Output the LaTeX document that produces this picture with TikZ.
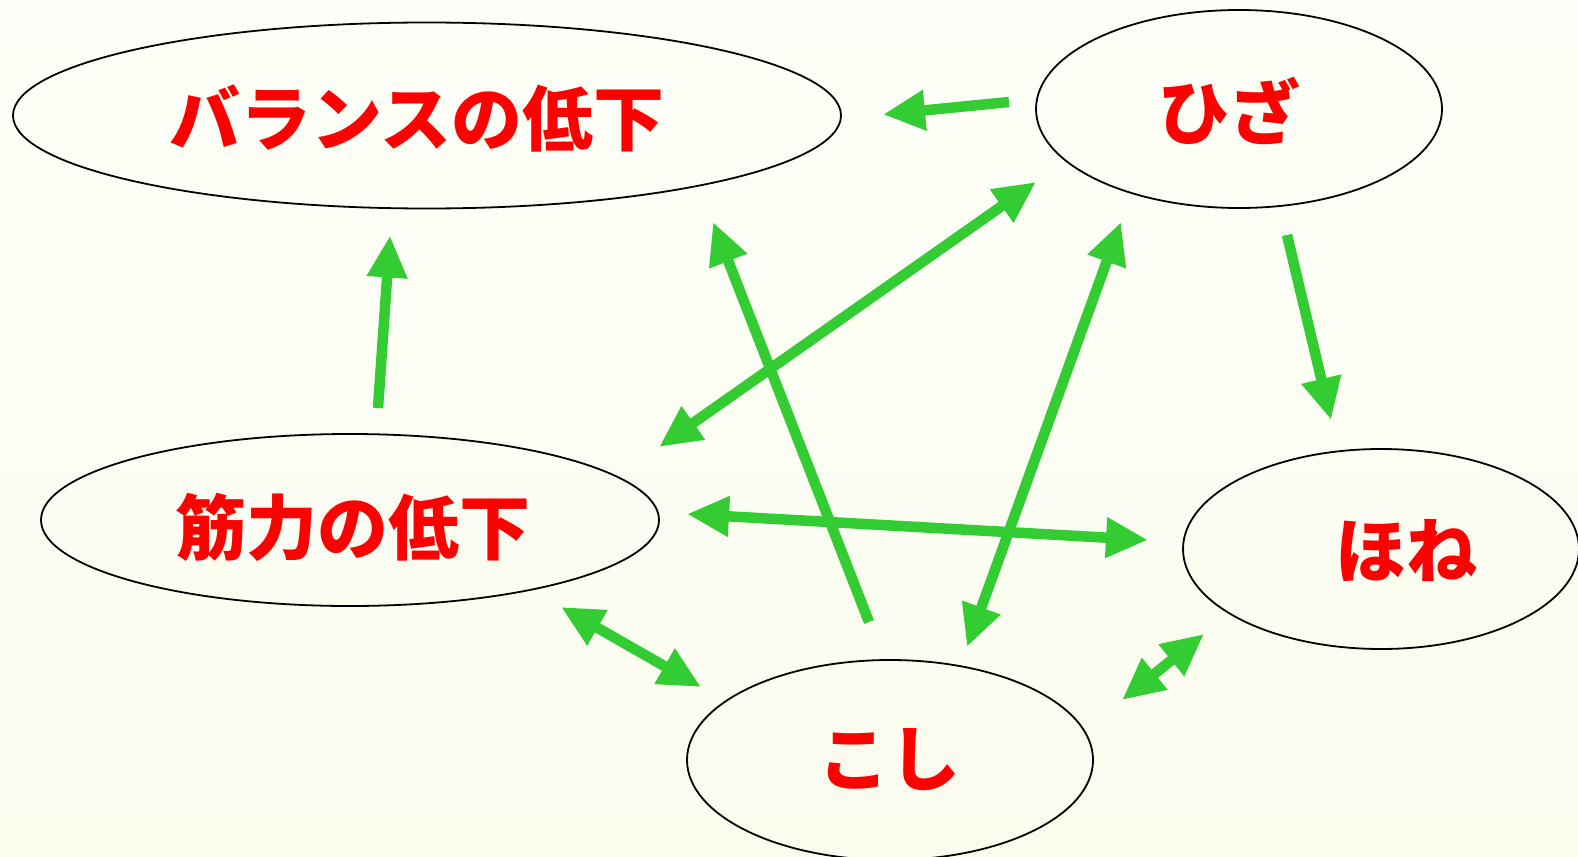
\documentclass[tikz,border=0pt]{standalone}
\usepackage{fontspec}
\newfontfamily\jp{Noto Sans CJK JP}
\usetikzlibrary{shapes.geometric,arrows.meta}
\definecolor{bgtop}{HTML}{FEFFF8}
\definecolor{bgbot}{HTML}{FBFCEE}
\definecolor{arrowgreen}{HTML}{33CC33}
\definecolor{labelred}{HTML}{FF0000}
\tikzset{
  ell/.style={draw=black, line width=1.8pt, ellipse, inner sep=0pt, outer sep=0pt},
  lab/.style={text=labelred, font=\jp\bfseries\fontsize{71}{71}\selectfont, inner sep=0pt},
  conn/.style={draw=arrowgreen, line width=10.5pt,
    -{Triangle[length=42pt,width=38pt]}},
  conn2/.style={draw=arrowgreen, line width=10.5pt,
    {Triangle[length=42pt,width=38pt]}-{Triangle[length=42pt,width=38pt]}},
}
\begin{document}
\begin{tikzpicture}[x=1pt,y=-1pt]
\shade[top color=bgtop,bottom color=bgbot] (0,0) rectangle (1578,856);
\useasboundingbox (0,0) rectangle (1578,856);

\node[ell, minimum width=828pt, minimum height=186pt] (bal) at (427,115.5) {};
\node[ell, minimum width=406pt, minimum height=198pt] (hiza) at (1239,109) {};
\node[ell, minimum width=618pt, minimum height=172pt] (kin) at (350,520) {};
\node[ell, minimum width=396pt, minimum height=200pt] (hone) at (1381,549) {};
\node[ell, minimum width=406pt, minimum height=200pt] (koshi) at (890,760) {};

\node[lab] (balt) at (417,118) {バランスの低下};
\node[lab] (hizat) at (1229,111) {ひざ};
\node[lab] (kint) at (353,527) {筋力の低下};
\node[lab] (honet) at (1406,550) {ほね};
\node[lab] (koshit) at (889,760) {こし};

% single arrows
\draw[conn] ([shift={(-230,-7)}]hiza.center) -- ([shift={(456,-1)}]bal.center);
\draw[conn] ([shift={(28,-112)}]kin.center) -- ([shift={(-37,120)}]bal.center);
\draw[conn] ([shift={(-21,-138)}]koshi.center) -- ([shift={(286,106.5)}]bal.center);
\draw[conn] ([shift={(48,126)}]hiza.center) -- ([shift={(-50,-129)}]hone.center);
% double arrows
\draw[conn2] ([shift={(309,-73)}]kin.center) -- ([shift={(-203,73)}]hiza.center);
\draw[conn2] ([shift={(77,-113)}]koshi.center) -- ([shift={(-118,113)}]hiza.center);
\draw[conn2] ([shift={(337,-6)}]kin.center) -- ([shift={(-233,-9)}]hone.center);
\draw[conn2] ([shift={(211,87)}]kin.center) -- ([shift={(-189,-73)}]koshi.center);
\draw[conn2] ([shift={(232,-60)}]koshi.center) -- ([shift={(-177,85)}]hone.center);
\end{tikzpicture}
\end{document}
